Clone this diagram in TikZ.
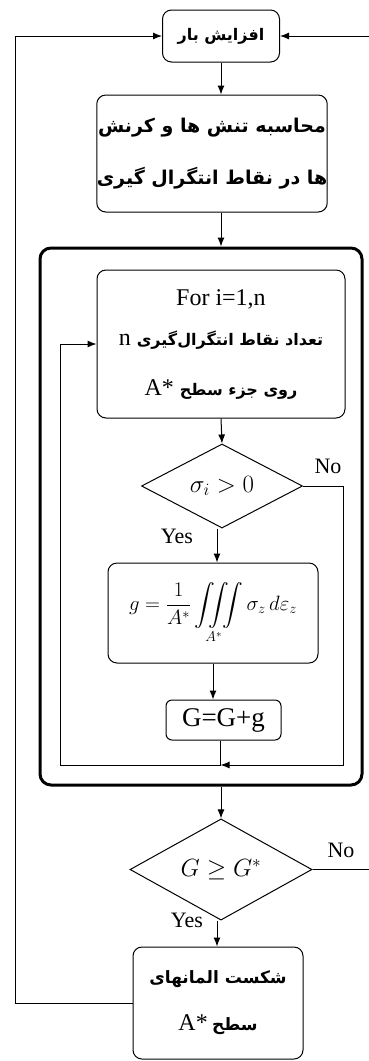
\documentclass[tikz,border=0pt]{standalone}
\usepackage{amsmath}
\usepackage{fontspec}
\setmainfont{Liberation Serif}
\newfontfamily\fa[Script=Arabic]{DejaVu Sans}
\TeXXeTstate=1
\usetikzlibrary{shapes.geometric,arrows.meta}
\newcommand{\fatext}[1]{{\fa\bfseries\beginR #1\endR}}
\begin{document}
\begin{tikzpicture}[x=1pt,y=-1pt,line width=1pt,
  >={Latex[length=9pt,width=7pt]},
  box/.style={draw,rounded corners=9pt,align=center,inner sep=0pt},
  dec/.style={draw,diamond,inner sep=0pt},
  lbl/.style={font=\fontsize{22}{24}\selectfont,inner sep=0pt},
  fat/.style={font=\fontsize{16}{20}\selectfont}]
\useasboundingbox (0,0) rectangle (369,1061);
\node[box,minimum width=117pt,minimum height=52pt,fat] (n1) at (221,36) {\fatext{افزایش بار}};
\node[box,minimum width=228pt,minimum height=117pt,font=\fontsize{19}{22}\selectfont] (n2) at (212,153.5)
  {\fatext{محاسبه تنش ها و کرنش}\\[30pt]\fatext{ها در نقاط انتگرال گیری}};
\node[draw,line width=3pt,rounded corners=11pt,minimum width=322pt,minimum height=537pt] (outer) at (201,516.5) {};
\node[box,minimum width=248pt,minimum height=148pt,font=\fontsize{24}{28}\selectfont] (for) at (221,344)
  {For i=1,n\\[12pt]n {\fontsize{16}{20}\selectfont\fatext{تعداد نقاط انتگرال‌گیری}}\\[22pt]
   A* {\fontsize{16}{20}\selectfont\fatext{روی جزء سطح}}};
\node[dec,minimum width=161pt,minimum height=62pt,font=\fontsize{24}{28}\selectfont] (d1) at (222,486) {$\sigma_i>0$};
\node[box,minimum width=210pt,minimum height=100pt,font=\fontsize{21}{24}\selectfont] (int) at (213,613)
  {$\displaystyle g=\frac{1}{A^*}\iiint\limits_{A^*}\sigma_z\,d\varepsilon_z$};
\node[box,rounded corners=6pt,minimum width=115pt,minimum height=40pt,font=\fontsize{27}{30}\selectfont] (g) at (223.5,720) {G=G+g};
\node[dec,minimum width=182pt,minimum height=65pt,font=\fontsize{25}{28}\selectfont] (d2) at (221,869.5) {$G\geq G^*$};
\node[box,minimum width=170pt,minimum height=112pt,font=\fontsize{17}{20}\selectfont] (last) at (218,1003)
  {\fatext{شکست المانهای}\\[26pt]{\fontsize{24}{28}\selectfont A*} \fatext{سطح}};
\node[lbl] (no1) at (328,466) {No};
\node[lbl] (yes1) at (177,536) {Yes};
\node[lbl] (no2) at (341,850) {No};
\node[lbl] (yes2) at (187,920) {Yes};
\coordinate (lb) at (60,765);
\coordinate (rb) at (343,765);
\coordinate (lx) at (15,36);
\coordinate (rx) at (369,36);
\coordinate (e2) at (369,869.5);
% connectors
\draw[->] (n1.south) -- (n1.south |- n2.north);
\draw[->] (n1.south |- n2.south) -- (n1.south |- outer.north);
\draw[->] (for.south) -- (d1.north);
\draw[->] ([xshift=-5pt]d1.south) -- ([xshift=-5pt]d1.south |- int.north);
\draw[->] (int.south) -- (int.south |- g.north);
\draw[->] ([xshift=-3pt]g.south) -- ([xshift=-3pt]g.south |- lb) -- (lb) |- (for.west);
\draw[->] (d1.east) -| (rb) -- ([xshift=-3pt]g.south |- lb);
\draw[->] (d2.north |- outer.south) -- (d2.north);
\draw (d2.east) -- (e2);
\draw[->] ([xshift=-4pt]d2.south) -- ([xshift=-4pt]d2.south |- last.north);
\draw[->] (last.west) -- (lx |- last.west) -- (lx) -- (n1.west);
\draw[->] (rx) -- (n1.east);
\end{tikzpicture}
\end{document}
